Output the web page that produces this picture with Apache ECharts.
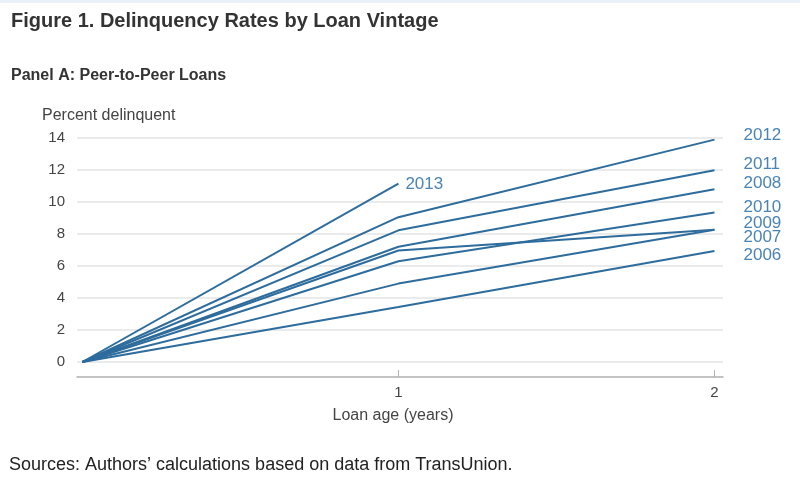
<!DOCTYPE html>
<html>
<head>
<meta charset="utf-8">
<script src="https://cdn.jsdelivr.net/npm/echarts@6/dist/echarts.min.js"></script>
<style>
html,body{margin:0;padding:0;background:#fff;}
#top{position:absolute;left:0;top:0;width:800px;height:3px;background:#eaf1f8;}
#c{width:800px;height:488px;}
</style>
</head>
<body>
<div id="c"></div>
<script>
// Data
var loanAge = [0, 1, 2];
var vintages = ['2006', '2007', '2008', '2009', '2010', '2011', '2012', '2013'];
var v2006 = [0, 3.44, 6.94];
var v2007 = [0, 4.90, 8.27];
var v2008 = [0, 7.20, 10.80];
var v2009 = [0, 6.97, 8.27];
var v2010 = [0, 6.30, 9.34];
var v2011 = [0, 8.23, 11.98];
var v2012 = [0, 9.05, 13.90];
var v2013 = [0, 11.15];
var yTicks = [0, 2, 4, 6, 8, 10, 12, 14];
var xTicks = [1, 2];

var values = {'2006': v2006, '2007': v2007, '2008': v2008, '2009': v2009,
  '2010': v2010, '2011': v2011, '2012': v2012, '2013': v2013};
var labelOffset = {'2006': [21, 4], '2007': [21, 8], '2008': [21, -6], '2009': [21, -6],
  '2010': [21, -5], '2011': [21, -6], '2012': [21, -4], '2013': [-1, 1]};

var FONT = '"Liberation Sans", Arial, sans-serif';
var lineColor = '#2d6c9c';
var labelColor = '#4a84b5';

var series = vintages.map(function (name) {
  var arr = values[name];
  return {
    name: name,
    type: 'line',
    data: arr.map(function (v, i) { return [loanAge[i], v]; }),
    symbol: 'none',
    silent: true,
    lineStyle: { color: lineColor, width: 2 },
    endLabel: {
      show: true,
      formatter: name,
      color: labelColor,
      fontFamily: FONT,
      fontSize: 17,
      offset: labelOffset[name]
    }
  };
});

var chart = echarts.init(document.getElementById('c'), null, { renderer: 'canvas' });
chart.setOption({
  animation: false,
  backgroundColor: '#ffffff',
  textStyle: { fontFamily: FONT },
  title: [
    { text: 'Figure 1. Delinquency Rates by Loan Vintage', left: 6, top: 6,
      textStyle: { fontFamily: FONT, fontSize: 20, fontWeight: 'bold', color: '#333333' } },
    { text: 'Panel A: Peer-to-Peer Loans', left: 6, top: 63,
      textStyle: { fontFamily: FONT, fontSize: 16, fontWeight: 'bold', color: '#333333' } },
    { text: 'Percent delinquent', left: 37, top: 103,
      textStyle: { fontFamily: FONT, fontSize: 16, fontWeight: 'normal', color: '#444444' } },
    { text: 'Loan age (years)', left: 388, top: 403, textAlign: 'center',
      textStyle: { fontFamily: FONT, fontSize: 16, fontWeight: 'normal', color: '#444444' } },
    { text: 'Sources: Authors\u2019 calculations based on data from TransUnion.', left: 4, top: 451,
      textStyle: { fontFamily: FONT, fontSize: 18, fontWeight: 'normal', color: '#222222' } }
  ],
  grid: { left: 77, right: 77, top: 138, bottom: 126, containLabel: false },
  xAxis: {
    type: 'value',
    min: -0.017,
    max: 2.027,
    offset: 15,
    axisLine: { show: true, onZero: false, lineStyle: { color: '#b0b0b0', width: 1.5 } },
    axisTick: { show: true, inside: true, length: 7, customValues: xTicks, lineStyle: { color: '#b0b0b0' } },
    axisLabel: { show: true, customValues: xTicks, color: '#444444', fontSize: 15, margin: 8, fontFamily: FONT },
    splitLine: { show: false }
  },
  yAxis: {
    type: 'value',
    min: 0,
    max: 14,
    interval: 2,
    axisLine: { show: false },
    axisTick: { show: false },
    axisLabel: { color: '#444444', fontSize: 15, margin: 12, fontFamily: FONT },
    splitLine: { show: true, lineStyle: { color: '#e4e4e4', width: 1.5 } }
  },
  series: series
});
</script>
<div id="top"></div>
</body>
</html>
